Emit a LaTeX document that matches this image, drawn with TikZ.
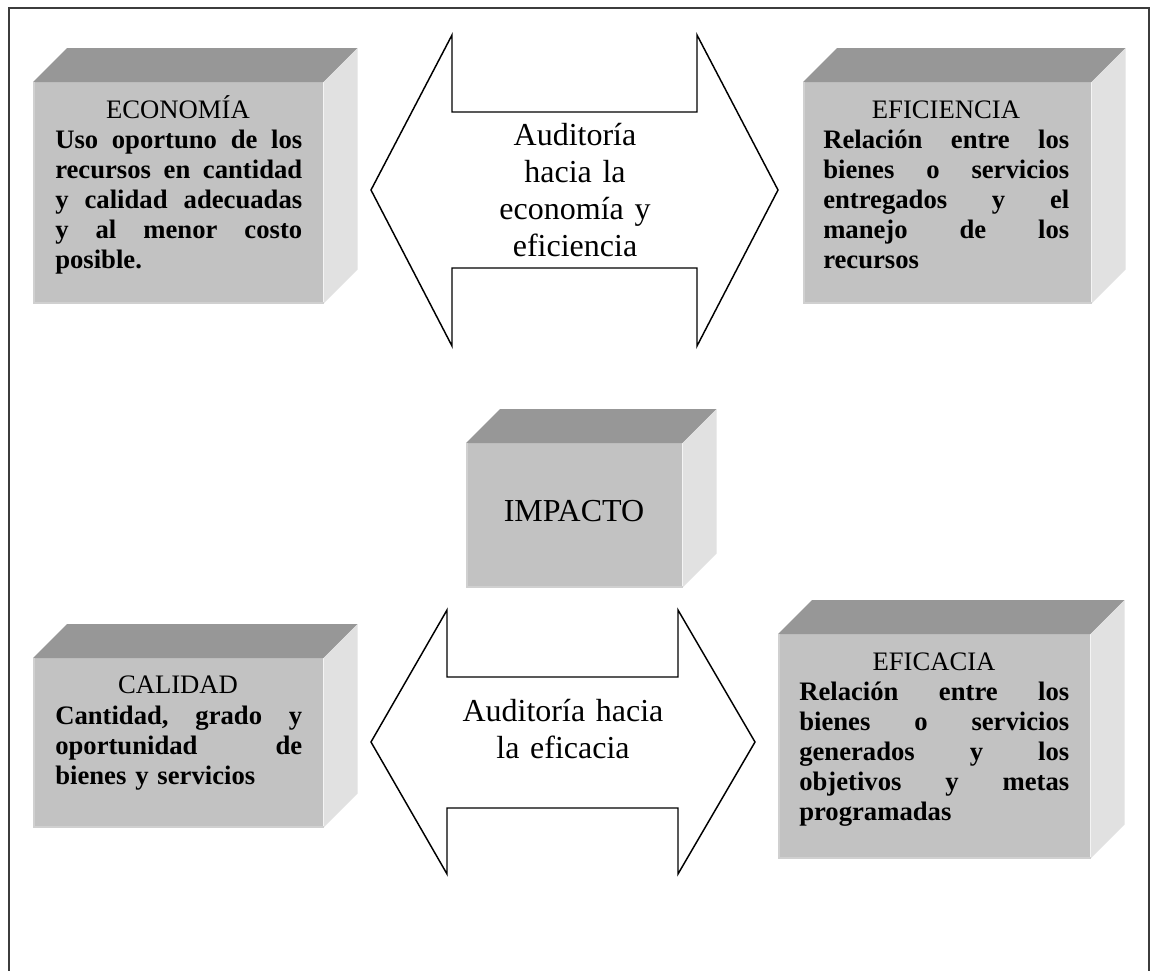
\documentclass[tikz,border=0pt]{standalone}
\usepackage{fontspec}
\setmainfont{Liberation Serif}

\definecolor{frontgray}{HTML}{C2C2C2}
\definecolor{topgray}{HTML}{979797}
\definecolor{sidegray}{HTML}{E1E1E1}
\definecolor{bevelgray}{HTML}{D0D0D0}
\definecolor{framegray}{HTML}{3C3C3C}

% width of the current text block, and a justified full-width line in it
\newlength\blockw
\newcommand\fullline[1]{\leavevmode\hbox to \blockw{#1}}

% top and right faces of a box whose front face is node #1
\newcommand\cubesides[1]{%
  \fill[topgray] (#1.north west) -- ++(34,-34) -- ([shift={(34,-34)}]#1.north east)
    -- (#1.north east) -- cycle;
  \fill[sidegray] (#1.north east) -- ++(34,-34) -- ([shift={(34,-34)}]#1.south east)
    -- (#1.south east) -- cycle;
  \draw[bevelgray, line width=1.5pt] ([shift={(1,0)}]#1.north west)
    -- ([shift={(1,-1)}]#1.south west) -- ([shift={(0,-1)}]#1.south east);
}

\tikzset{
  wh/.style 2 args={minimum width=#1*0.75pt, minimum height=#2*0.75pt},
  frontface/.style={fill=frontgray, draw=none, inner sep=0pt, anchor=north west},
  heading/.style={inner sep=0pt, anchor=base, font=\fontsize{20}{22.5}\selectfont},
  bodytext/.style={inner sep=0pt, anchor=base west, align=left, text width=#1*0.75pt,
    font=\fontsize{20}{22.5}\selectfont\bfseries,
    execute at begin node={\pgfmathsetlength{\blockw}{#1*0.75pt}}},
  arrowtext/.style={inner sep=0pt, anchor=base, align=center, text width=#1*0.75pt,
    font=\fontsize{24}{27.75}\selectfont},
  blockarrow/.style={draw=black, line width=1.1pt, fill=white, line join=miter},
  frame/.style={draw=framegray, line width=1.5pt}
}

\begin{document}
\begin{tikzpicture}[x=0.75pt, y=-0.75pt]
\useasboundingbox (0,0) rectangle (1150,971);
\fill[white] (0,0) rectangle (1150,971);

% page frame (open at the bottom)
\draw[frame] (9,971) -- (9,8) -- (1149,8) -- (1149,971);

% front faces of the five boxes
\node[frontface, wh={290}{221}] (econ) at (33,82) {};
\node[frontface, wh={288}{221}] (efic) at (803,82) {};
\node[frontface, wh={216}{144}] (imp) at (466,443) {};
\node[frontface, wh={290}{169}] (cal) at (33,658) {};
\node[frontface, wh={312}{224}] (efa) at (778,634) {};

\cubesides{econ}
\cubesides{efic}
\cubesides{imp}
\cubesides{cal}
\cubesides{efa}

% ECONOMÍA
\node[heading] (econ-h) at (178,118) {ECONOMÍA};
\node[bodytext=247] (econ-b) at (55,148) {%
  \fullline{Uso\hfill oportuno\hfill de\hfill los}\\
  \fullline{recursos\hfill en\hfill cantidad}\\
  \fullline{y\hfill calidad\hfill adecuadas}\\
  \fullline{y\hfill al\hfill menor\hfill costo}\\
  posible.};

% EFICIENCIA
\node[heading] (efic-h) at (946,118) {EFICIENCIA};
\node[bodytext=246] (efic-b) at (823,148) {%
  \fullline{Relación\hfill entre\hfill los}\\
  \fullline{bienes\hfill o\hfill servicios}\\
  \fullline{entregados\hfill y\hfill el}\\
  \fullline{manejo\hfill de\hfill los}\\
  recursos};

% IMPACTO
\node[inner sep=0pt, anchor=base, font=\fontsize{24}{27.75}\selectfont] (imp-t) at (574,521) {IMPACTO};

% CALIDAD
\node[heading] (cal-h) at (178,693) {CALIDAD};
\node[bodytext=247] (cal-b) at (55,724) {%
  \fullline{Cantidad,\hfill grado\hfill y}\\
  \fullline{oportunidad\hfill de}\\
  bienes y servicios};

% EFICACIA
\node[heading] (efa-h) at (934,670) {EFICACIA};
\node[bodytext=270] (efa-b) at (799,700) {%
  \fullline{Relación\hfill entre\hfill los}\\
  \fullline{bienes\hfill o\hfill servicios}\\
  \fullline{generados\hfill y\hfill los}\\
  \fullline{objetivos\hfill y\hfill metas}\\
  programadas};

% upper double block arrow
\draw[blockarrow] (371,190) -- (452,35) -- (452,112) -- (697,112) -- (697,35)
  -- (778,190) -- (697,346) -- (697,268) -- (452,268) -- (452,346) -- cycle;
\node[arrowtext=220] (arr1-t) at (575,145) {Auditoría\\hacia la\\economía y\\eficiencia};

% lower double block arrow
\draw[blockarrow] (371,742) -- (447,610) -- (447,677) -- (678,677) -- (678,610)
  -- (755,742) -- (678,874) -- (678,808) -- (447,808) -- (447,874) -- cycle;
\node[arrowtext=220] (arr2-t) at (563,721) {Auditoría hacia\\la eficacia};
\end{tikzpicture}
\end{document}
